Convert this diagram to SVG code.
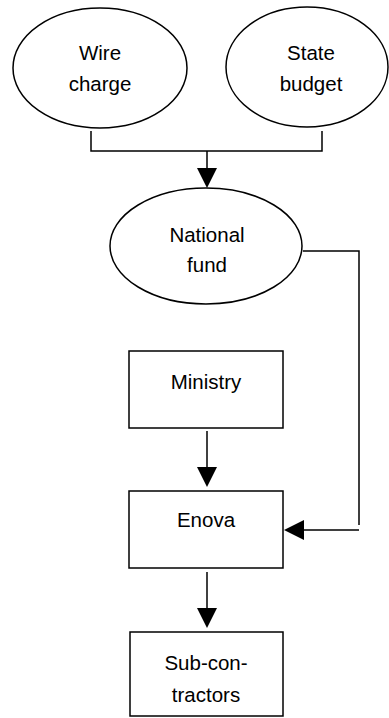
<svg xmlns="http://www.w3.org/2000/svg" width="389" height="718" viewBox="0 0 389 718">
<style>
.shape{fill:#fff;stroke:#000;stroke-width:1.5}
.line{fill:none;stroke:#000;stroke-width:1.5}
.head{fill:#000;stroke:none}
text{font-family:"Liberation Sans",Arial,sans-serif;font-size:20.5px;fill:#000;text-anchor:middle}
</style>
<rect width="389" height="718" fill="#fff"/>
<g id="connectors">
<path class="line" d="M91,131 V151 H322 V131 M207,151 V170"/>
<polygon class="head" points="197,168 217,168 207,188"/>
<path class="line" d="M303,251 H359 V525 M359,530 H302"/>
<polygon class="head" points="304,520 304,540 284,530"/>
<path class="line" d="M207,431 V468"/>
<polygon class="head" points="197,467 217,467 207,487"/>
<path class="line" d="M207,572 V610"/>
<polygon class="head" points="197,608 217,608 207,628"/>
</g>
<g id="wire-charge">
<ellipse class="shape" cx="100" cy="68" rx="87" ry="60"/>
<text x="100" y="60">Wire</text>
<text x="100" y="91">charge</text>
</g>
<g id="state-budget">
<ellipse class="shape" cx="307" cy="67" rx="81" ry="60"/>
<text x="311" y="60">State</text>
<text x="311" y="91">budget</text>
</g>
<g id="national-fund">
<ellipse class="shape" cx="206" cy="246" rx="96" ry="58"/>
<text x="207" y="242">National</text>
<text x="207" y="272">fund</text>
</g>
<g id="ministry">
<rect class="shape" x="129" y="351" width="154" height="77"/>
<text x="206" y="389">Ministry</text>
</g>
<g id="enova">
<rect class="shape" x="129" y="491" width="154" height="77"/>
<text x="206" y="527">Enova</text>
</g>
<g id="sub-contractors">
<rect class="shape" x="130" y="632" width="153" height="84"/>
<text x="206" y="670">Sub-con-</text>
<text x="206" y="702">tractors</text>
</g>
</svg>
